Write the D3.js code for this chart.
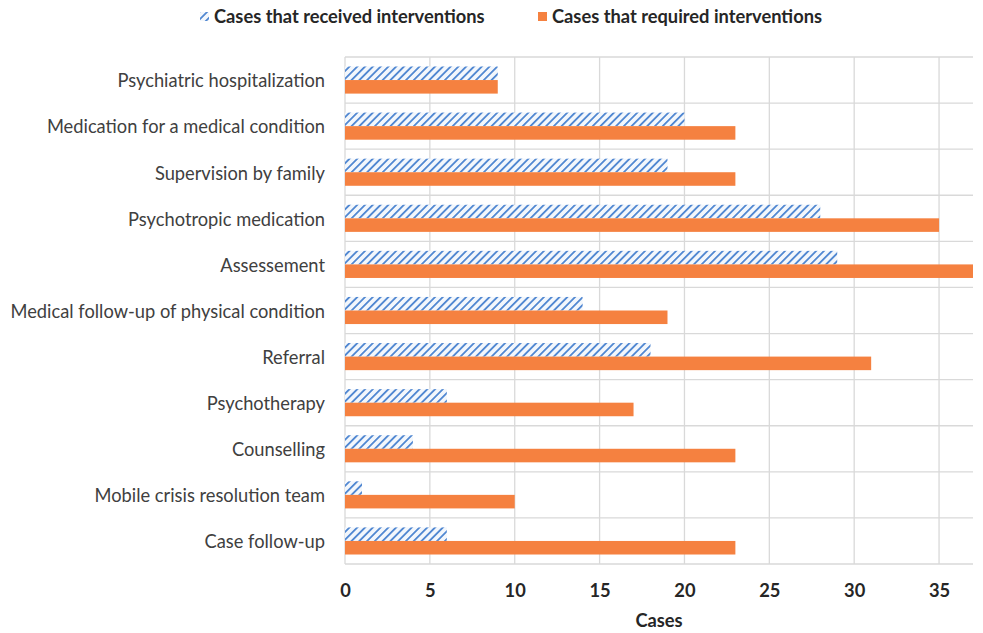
<!DOCTYPE html>
<html><head><meta charset="utf-8">
<script src="https://cdn.jsdelivr.net/npm/d3@7"></script>
<style>body{margin:0;background:#fff}svg{display:block}</style>
</head><body>
<script>
const categories = ["Psychiatric hospitalization","Medication for a medical condition","Supervision by family","Psychotropic medication","Assessement","Medical follow-up of physical condition","Referral","Psychotherapy","Counselling","Mobile crisis resolution team","Case follow-up"];
const received = [9,20,19,28,29,14,18,6,4,1,6];
const required = [9,23,23,35,37,19,31,17,23,10,23];
const seriesNames = ["Cases that received interventions","Cases that required interventions"];
const xTicks = [0,5,10,15,20,25,30,35];

const W=983,H=633;
const m={left:345,right:10,top:57,bottom:69};
const svg=d3.select("body").append("svg").attr("width",W).attr("height",H);
const font="Lato, 'Open Sans', sans-serif";
const fs=18.3;

const defs=svg.append("defs");
const pat=defs.append("pattern").attr("id","hatch").attr("patternUnits","userSpaceOnUse")
  .attr("width",5.5).attr("height",5.5).attr("patternTransform","rotate(45)");
pat.append("rect").attr("width",5.5).attr("height",5.5).attr("fill","#f3f7fc");
pat.append("rect").attr("x",0).attr("y",0).attr("width",1.8).attr("height",5.5).attr("fill","#4f86d1");

const x=d3.scaleLinear().domain([0,37]).range([m.left,W-m.right]);
const y=d3.scaleBand().domain(categories).range([m.top,H-m.bottom]).padding(0);
const inner=d3.scaleBand().domain([0,1]).range([0,y.bandwidth()]).paddingOuter(0.7).paddingInner(0);

const g=svg.append("g");
g.selectAll(".vg").data(xTicks.filter(d=>d>0)).join("line")
  .attr("x1",d=>x(d)).attr("x2",d=>x(d)).attr("y1",m.top).attr("y2",H-m.bottom)
  .attr("stroke","#d9d9d9").attr("stroke-width",1.3);
const seps=categories.map(c=>y(c)).concat([y.range()[1]]);
g.selectAll(".hg").data(seps).join("line")
  .attr("x1",m.left).attr("x2",W-m.right).attr("y1",d=>d).attr("y2",d=>d)
  .attr("stroke","#d9d9d9").attr("stroke-width",1.3);
g.append("line").attr("x1",m.left).attr("x2",m.left).attr("y1",m.top).attr("y2",H-m.bottom)
  .attr("stroke","#d9d9d9").attr("stroke-width",1.3);

const rows=categories.map((c,i)=>({c,vals:[received[i],required[i]]}));
const rg=g.selectAll(".row").data(rows).join("g").attr("transform",d=>`translate(0,${y(d.c)})`);
rg.selectAll("rect").data(d=>d.vals.map((v,k)=>({v,k}))).join("rect")
  .attr("x",x(0)).attr("y",d=>inner(d.k)).attr("height",inner.bandwidth())
  .attr("width",d=>x(d.v)-x(0))
  .attr("fill",d=>d.k===0?"url(#hatch)":"#f58140");

const yAxis=d3.axisLeft(y).tickSize(0).tickPadding(20);
const ya=svg.append("g").attr("transform",`translate(${m.left},1.5)`).call(yAxis);
ya.select(".domain").remove();
ya.selectAll("text").attr("font-family",font).attr("font-size",fs).attr("fill","#404040");

const xAxis=d3.axisBottom(x).tickValues(xTicks).tickSize(0).tickPadding(20);
const xa=svg.append("g").attr("transform",`translate(0,${H-m.bottom})`).call(xAxis);
xa.select(".domain").remove();
xa.selectAll("text").attr("font-family",font).attr("font-size",fs).attr("font-weight","bold").attr("fill","#262626");

svg.append("text").attr("x",(m.left+W-m.right)/2).attr("y",627).attr("text-anchor","middle")
  .attr("font-family",font).attr("font-size",fs).attr("font-weight","bold").attr("fill","#262626").text("Cases");

const leg=[{x:200,fill:"url(#hatch)",t:seriesNames[0]},{x:538,fill:"#f58140",t:seriesNames[1]}];
const lg=svg.selectAll(".leg").data(leg).join("g");
lg.append("rect").attr("x",d=>d.x).attr("y",12).attr("width",9).attr("height",9).attr("fill",d=>d.fill);
lg.append("text").attr("x",d=>d.x+14).attr("y",23).attr("font-family",font).attr("font-size",fs)
  .attr("font-weight","bold").attr("fill","#262626").text(d=>d.t);
</script>
</body></html>
